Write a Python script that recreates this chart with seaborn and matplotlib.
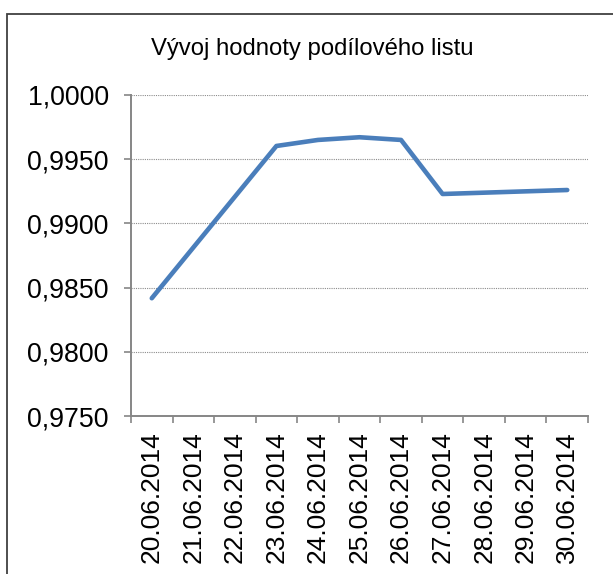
import numpy as np
import pandas as pd
import matplotlib
matplotlib.use("Agg")
import matplotlib.pyplot as plt
import matplotlib.dates as mdates
from matplotlib.patches import Rectangle
from matplotlib.ticker import FuncFormatter, FixedLocator
import seaborn as sns

# trading days only (weekends 21-22.06 and 28-29.06 have no value)
dates = ["2014-06-20", "2014-06-23", "2014-06-24", "2014-06-25",
         "2014-06-26", "2014-06-27", "2014-06-30"]
values = [0.98417, 0.99603, 0.99650, 0.99671, 0.99650, 0.99229, 0.99260]
axis_days = pd.date_range("2014-06-20", "2014-06-30", freq="D")
title = "Vývoj hodnoty podílového listu"

df = pd.DataFrame({"datum": pd.to_datetime(dates), "hodnota": values})

sns.set_theme(style="white")
plt.rcParams["font.family"] = ["Liberation Sans", "DejaVu Sans"]

fig = plt.figure(figsize=(6.13, 5.74), dpi=100)
ax = fig.add_axes([131 / 613, 1 - 416 / 574, (588 - 131) / 613, (416 - 95) / 574])

sns.lineplot(data=df, x="datum", y="hodnota", ax=ax, color="#4A7EBB",
             linewidth=3.3, solid_capstyle="round", solid_joinstyle="round")

half = pd.Timedelta(hours=12)
ax.set_xlim(mdates.date2num(axis_days[0] - half), mdates.date2num(axis_days[-1] + half))
ax.set_ylim(0.975, 1.0)
ax.set_yticks(np.arange(0.975, 1.00001, 0.005))
ax.yaxis.set_major_formatter(FuncFormatter(lambda v, p: f"{v:.4f}".replace(".", ",")))

ax.set_xticks(mdates.date2num(axis_days))
ax.set_xticklabels([d.strftime("%d.%m.%Y") for d in axis_days], rotation=90)
bounds = [mdates.date2num(d - half) for d in axis_days] + [mdates.date2num(axis_days[-1] + half)]
ax.xaxis.set_minor_locator(FixedLocator(bounds))

ax.tick_params(axis="x", which="major", length=0, pad=11, labelsize=19, colors="black")
ax.tick_params(axis="x", which="minor", length=5, width=1.2, color="#868686", direction="out")
ax.tick_params(axis="y", which="major", length=5, width=1.2, color="#868686",
               direction="out", labelsize=19.3, pad=11, labelcolor="black")
ax.tick_params(bottom=True, left=True, which="both")

ax.grid(axis="y", color="#8c8c8c", linestyle=(0, (1, 1)), linewidth=0.8)
ax.grid(axis="x", visible=False)
for s in ["top", "right"]:
    ax.spines[s].set_visible(False)
for s in ["left", "bottom"]:
    ax.spines[s].set_color("#868686")
    ax.spines[s].set_linewidth(1.4)
ax.set_xlabel("")
ax.set_ylabel("")

fig.text(312 / 613, 1 - 49 / 574, title, ha="center", va="center",
         fontsize=17.2, color="black")

# outer chart frame
fig.patches.append(Rectangle((7 / 613, -0.05), 1.1, 1 - 14 / 574 + 0.05,
                             transform=fig.transFigure, fill=False,
                             edgecolor="#404040", linewidth=1.3, clip_on=False))

fig.savefig("out.png", dpi=100)
